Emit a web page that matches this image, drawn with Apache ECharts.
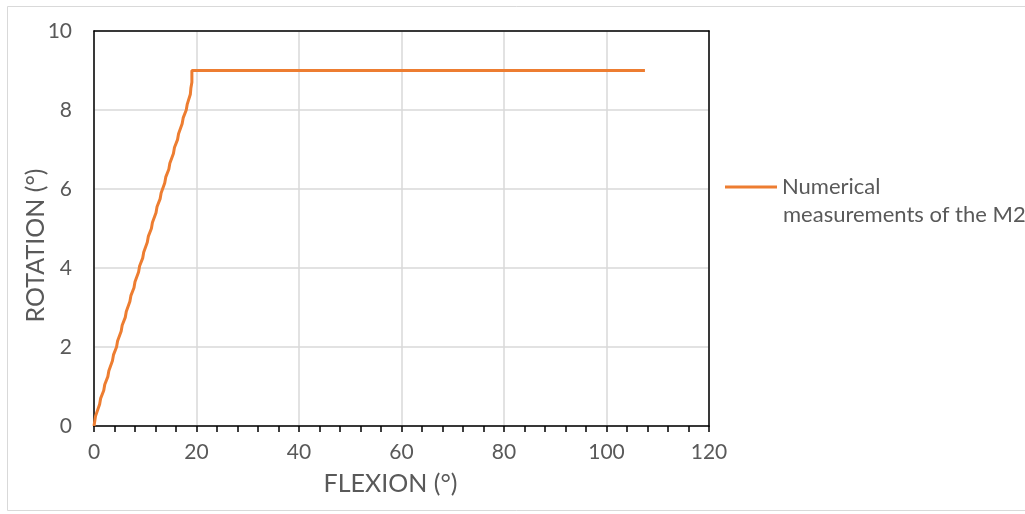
<!DOCTYPE html>
<html>
<head>
<meta charset="utf-8">
<script src="https://cdn.jsdelivr.net/npm/echarts@6/dist/echarts.min.js"></script>
<style>html,body{margin:0;padding:0;background:#fff}#c{width:1025px;height:514px}</style>
</head>
<body>
<div id="c"></div>
<script>
const seriesName = 'Numerical measurements of the M2';
const legendLine1 = 'Numerical';
const legendLine2 = 'measurements of the M2';
const flexion = [0, 0.3, 0.5, 1.1, 1.3, 1.9, 2.1, 2.7, 2.9, 3.6, 3.8, 4.4, 4.6, 5.3, 5.5, 6.1, 6.3, 7.0, 7.2, 7.8, 8.0, 8.7, 8.9, 9.5, 9.7, 10.4, 10.6, 11.2, 11.4, 12.1, 12.3, 12.9, 13.1, 13.8, 14.0, 14.6, 14.8, 15.5, 15.7, 16.3, 16.5, 17.2, 17.4, 18.0, 18.2, 18.8, 18.9, 19.1, 19.1, 107.5];
const rotation = [0, 0.25, 0.3, 0.55, 0.7, 0.9, 1.05, 1.25, 1.4, 1.65, 1.8, 2.0, 2.15, 2.4, 2.55, 2.75, 2.9, 3.15, 3.3, 3.5, 3.65, 3.9, 4.05, 4.25, 4.4, 4.65, 4.8, 5.0, 5.15, 5.4, 5.55, 5.75, 5.9, 6.15, 6.3, 6.5, 6.65, 6.9, 7.05, 7.25, 7.4, 7.65, 7.8, 8.0, 8.15, 8.4, 8.55, 8.7, 9.0, 9.0];
const xAxisName = 'FLEXION (°)';
const yAxisName = 'ROTATION (°)';

const data = flexion.map((f, i) => [f, rotation[i]]);
const font = 'Lato, Open Sans, sans-serif';
const txt = '#595959';

const chart = echarts.init(document.getElementById('c'), null, {renderer: 'canvas'});
chart.setOption({
  animation: false,
  backgroundColor: '#fff',
  textStyle: {fontFamily: font},
  graphic: [{
    type: 'rect', silent: true,
    shape: {x: 7.5, y: 6.5, width: 1030, height: 504},
    style: {fill: 'none', stroke: '#d9d9d9', lineWidth: 1}
  }, {
    type: 'text', silent: true,
    left: 783, top: 204,
    style: {text: legendLine2, fill: txt, font: '22px ' + font}
  }],
  grid: {left: 94, right: 316, top: 31, bottom: 88},
  legend: {
    show: true,
    left: 720, top: 171,
    itemWidth: 52, itemHeight: 3,
    icon: 'rect',
    formatter: () => legendLine1,
    textStyle: {color: txt, fontSize: 22, fontFamily: font},
    data: [{name: seriesName, itemStyle: {color: '#ED7D31'}}]
  },
  xAxis: [{
    type: 'value', min: 0, max: 120, interval: 20,
    name: xAxisName, nameLocation: 'middle', nameGap: 45, nameMoveOverlap: false,
    nameTextStyle: {color: txt, fontSize: 25, fontFamily: font, padding: [0, 22, 0, 0]},
    axisLine: {show: true, lineStyle: {color: '#000', width: 1.5}},
    axisTick: {show: true, length: 6, lineStyle: {color: '#000', width: 1.5}},
    minorTick: {show: true, splitNumber: 5, length: 6, lineStyle: {color: '#000', width: 1.5}},
    axisLabel: {color: txt, fontSize: 21, margin: 16, fontFamily: font},
    splitLine: {show: true, lineStyle: {color: '#d9d9d9', width: 1.5}}
  }, {
    type: 'value', min: 0, max: 120, position: 'top',
    axisLine: {show: true, onZero: false, lineStyle: {color: '#000', width: 1.5}},
    axisTick: {show: false}, axisLabel: {show: false}, splitLine: {show: false}
  }],
  yAxis: [{
    type: 'value', min: 0, max: 10, interval: 2,
    name: yAxisName, nameLocation: 'middle', nameGap: 46, nameRotate: 90, nameMoveOverlap: false,
    nameTextStyle: {color: txt, fontSize: 25, fontFamily: font, padding: [0, 34, 0, 0]},
    axisLine: {show: true, lineStyle: {color: '#000', width: 1.5}},
    axisTick: {show: false},
    axisLabel: {color: txt, fontSize: 21, margin: 22, fontFamily: font},
    splitLine: {show: true, lineStyle: {color: '#d9d9d9', width: 1.5}}
  }, {
    type: 'value', min: 0, max: 10, position: 'right',
    axisLine: {show: true, onZero: false, lineStyle: {color: '#000', width: 1.5}},
    axisTick: {show: false}, axisLabel: {show: false}, splitLine: {show: false}
  }],
  series: [{
    name: seriesName,
    type: 'line',
    data: data,
    showSymbol: false,
    symbol: 'none',
    lineStyle: {color: '#ED7D31', width: 3},
    itemStyle: {color: '#ED7D31'},
    z: 5
  }]
});
</script>
</body>
</html>
